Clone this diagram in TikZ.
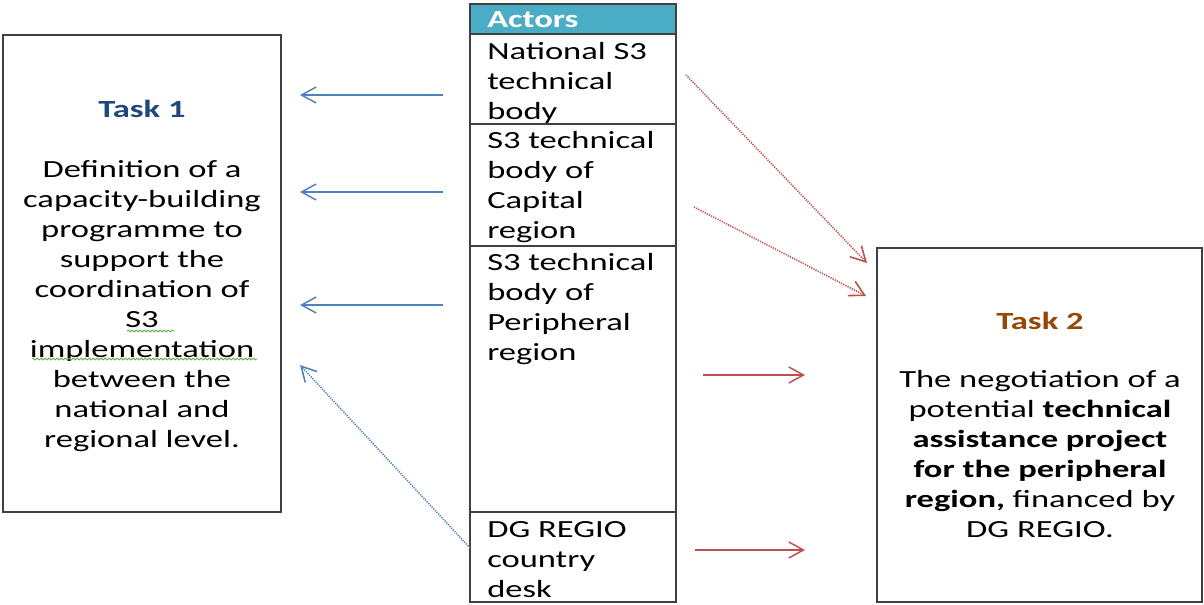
\documentclass[tikz,border=0pt]{standalone}
\usepackage{fontspec}
\setmainfont{Carlito}[FakeStretch=1.40]
\usetikzlibrary{arrows.meta,decorations.pathmorphing}
\definecolor{hdr}{HTML}{4BACC6}
\definecolor{tblue}{HTML}{1F497D}
\definecolor{tbrown}{HTML}{984806}
\definecolor{ablue}{HTML}{4F81BD}
\definecolor{ared}{HTML}{C0504D}
\definecolor{bord}{HTML}{404040}
\definecolor{spell}{HTML}{5DB043}
\begin{document}
\begin{tikzpicture}[x=0.75pt,y=-0.75pt,
  box/.style={draw=bord, line width=0.9pt, inner sep=0pt, fill=white},
  txt/.style={inner sep=0pt, font=\fontsize{18.5pt}{22.5pt}\selectfont},
  ctxt/.style={txt, align=center, anchor=base},
  ltxt/.style={txt, align=left, anchor=base west},
  barb/.style={-{Straight Barb[length=11pt,width=12pt]}, line width=1.1pt},
  bluearrow/.style={barb, draw=ablue},
  redarrow/.style={barb, draw=ared},
  dots/.style={line width=1.2pt, dash pattern=on 0.9pt off 0.9pt},
  wavy/.style={draw=spell, line width=0.6pt, decorate, decoration={snake, amplitude=0.7pt, segment length=3pt}}
]
\useasboundingbox (0,0) rectangle (1204,604);
% boxes
\node[box, minimum width=208.5pt, minimum height=357.75pt] (t1) at (142,273.5) {};
\node[box, minimum width=243.75pt, minimum height=265.5pt] (t2) at (1039.5,425) {};
\node[box, fill=hdr, minimum width=154.5pt, minimum height=22.5pt] (hd) at (573,19) {};
\node[box, minimum width=154.5pt, minimum height=67.5pt] (c1) at (573,79) {};
\node[box, minimum width=154.5pt, minimum height=91.5pt] (c2) at (573,185) {};
\node[box, minimum width=154.5pt, minimum height=199.5pt] (c3) at (573,379) {};
\node[box, minimum width=154.5pt, minimum height=67.5pt] (c4) at (573,557) {};
% table text (anchored at the baseline of the last line)
\node[ltxt, text=white, font=\fontsize{18.5pt}{22.5pt}\selectfont\bfseries] (hdt) at (487,27) {Actors};
\node[ltxt] (c1t) at (487,119) {National S3\\technical\\body};
\node[ltxt] (c2t) at (487,238) {S3 technical\\body of\\Capital\\region};
\node[ltxt] (c3t) at (487,360) {S3 technical\\body of\\Peripheral\\region};
\node[ltxt] (c4t) at (487,597) {DG REGIO\\country\\desk};
% task 1
\node[ctxt, text=tblue, font=\fontsize{18.5pt}{22.5pt}\selectfont\bfseries] (t1h) at (142,117) {Task 1};
\node[ctxt] (t1t) at (142,447) {Definition of a\\capacity-building\\programme to\\support the\\coordination of\\S3\\implementation\\between the\\national and\\regional level.};
\coordinate (w1a) at (127,331); \coordinate (w1b) at (175,331);
\coordinate (w2a) at (32,359); \coordinate (w2b) at (257,359);
\draw[wavy] (w1a) -- (w1b);
\draw[wavy] (w2a) -- (w2b);
% task 2
\node[ctxt, text=tbrown, font=\fontsize{18.5pt}{22.5pt}\selectfont\bfseries] (t2h) at (1040,329) {Task 2};
\node[ctxt] (t2t) at (1040,537) {The negotiation of a\\potential \textbf{technical}\\\textbf{assistance project}\\\textbf{for the peripheral}\\\textbf{region,} financed by\\DG REGIO.};
% arrow coordinates
\coordinate (b1s) at (443,95);  \coordinate (b1e) at (300,95);
\coordinate (b2s) at (443,192); \coordinate (b2e) at (300,192);
\coordinate (b3s) at (443,305); \coordinate (b3e) at (300,305);
\coordinate (bds) at (470,548); \coordinate (bde) at (300,365);
\coordinate (r1s) at (686,75);  \coordinate (r1e) at (867,263);
\coordinate (r2s) at (694,207); \coordinate (r2e) at (866,296);
\coordinate (r3s) at (703,375); \coordinate (r3e) at (805,375);
\coordinate (r4s) at (695,550); \coordinate (r4e) at (805,550);
\draw[bluearrow] (b1s) -- (b1e);
\draw[bluearrow] (b2s) -- (b2e);
\draw[bluearrow] (b3s) -- (b3e);
\draw[bluearrow, dots] (bds) -- (bde);
\draw[redarrow, dots] (r1s) -- (r1e);
\draw[redarrow, dots] (r2s) -- (r2e);
\draw[redarrow] (r3s) -- (r3e);
\draw[redarrow] (r4s) -- (r4e);
\end{tikzpicture}
\end{document}
